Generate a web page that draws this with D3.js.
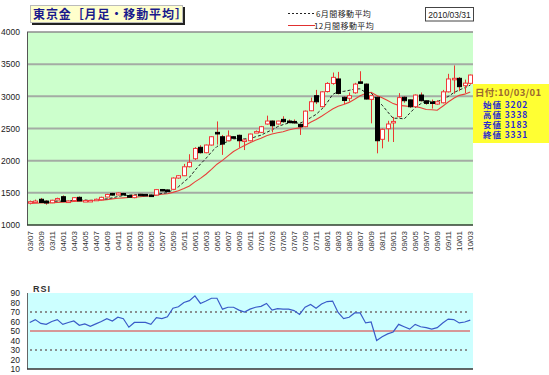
<!DOCTYPE html>
<html>
<head>
<meta charset="utf-8">
<script src="https://cdn.jsdelivr.net/npm/d3@7"></script>
<style>
body{margin:0;background:#fff}
svg{display:block}
</style>
</head>
<body>
<div id="chart"></div>
<script>
// monthly candles 2003/07 - 2010/03
let months = ["03/07","03/08","03/09","03/10","03/11","03/12",
  "04/01","04/02","04/03","04/04","04/05","04/06","04/07","04/08","04/09","04/10","04/11","04/12",
  "05/01","05/02","05/03","05/04","05/05","05/06","05/07","05/08","05/09","05/10","05/11","05/12",
  "06/01","06/02","06/03","06/04","06/05","06/06","06/07","06/08","06/09","06/10","06/11","06/12",
  "07/01","07/02","07/03","07/04","07/05","07/06","07/07","07/08","07/09","07/10","07/11","07/12",
  "08/01","08/02","08/03","08/04","08/05","08/06","08/07","08/08","08/09","08/10","08/11","08/12",
  "09/01","09/02","09/03","09/04","09/05","09/06","09/07","09/08","09/09","09/10","09/11","09/12",
  "10/01","10/02","10/03"];

let openP  = [1345,1362,1400,1372,1345,1405,1440,1368,1380,1430,1375,1378,1395,1392,1435,1490,1468,1490,
  1458,1425,1478,1476,1465,1465,1552,1545,1555,1730,1766,1906,2030,2208,2124,2243,2440,2372,2310,2372,
  2394,2318,2310,2448,2440,2570,2616,2570,2642,2616,2610,2565,2528,2776,3010,2840,3075,3200,3270,2985,
  2970,3055,3225,3190,2953,2985,2332,2497,2600,2685,2985,2945,2838,3020,2930,2912,2880,2900,3070,3270,
  3280,3165,3202];
let highP  = [1380,1395,1420,1385,1392,1425,1460,1385,1435,1445,1392,1390,1410,1440,1485,1500,1505,1500,
  1465,1470,1485,1482,1472,1560,1560,1552,1740,1775,1950,2100,2210,2240,2250,2380,2610,2400,2470,2380,
  2405,2330,2420,2470,2540,2700,2625,2620,2690,2640,2640,2570,2780,2980,3100,3080,3220,3370,3380,3000,
  3060,3210,3390,3200,3020,3000,2500,2620,2680,3050,3000,2950,3030,3060,2940,2950,2940,3100,3350,3480,
  3300,3260,3338];
let lowP   = [1320,1350,1345,1315,1340,1395,1360,1355,1375,1370,1365,1370,1385,1385,1430,1455,1460,1470,
  1425,1415,1465,1462,1440,1460,1525,1520,1550,1720,1760,1895,2010,2110,2115,2235,2250,2090,2300,2340,
  2200,2165,2300,2430,2430,2560,2440,2560,2590,2580,2575,2400,2520,2770,2880,2830,3060,3180,3030,2880,
  2920,3040,3200,2950,2580,2114,2192,2295,2290,2670,2900,2820,2830,2920,2870,2810,2870,2890,3060,3040,
  3080,3050,3183];
let closeP = [1362,1372,1350,1342,1385,1412,1365,1372,1425,1375,1380,1382,1400,1430,1475,1465,1497,1488,
  1432,1462,1474,1472,1448,1550,1538,1530,1730,1766,1905,1975,2190,2124,2243,2372,2415,2258,2383,2350,
  2310,2322,2414,2452,2528,2616,2543,2616,2606,2595,2590,2528,2770,2916,2915,3070,3200,3295,3045,2935,
  3010,3190,3220,2958,3010,2310,2487,2570,2610,2980,2932,2838,3020,2932,2890,2908,2915,3070,3270,3280,
  3150,3205,3331];

let ma6  = [1360,1362,1365,1367,1369,1371,1371,1371,1384,1389,1388,1383,1389,1399,1407,1422,1442,1459,
  1465,1470,1470,1471,1463,1473,1491,1502,1545,1594,1670,1741,1849,1948,2034,2135,2220,2267,2299,2337,
  2348,2340,2340,2372,2396,2440,2479,2528,2560,2584,2594,2580,2618,2668,2719,2798,2900,3028,3074,3077,
  3093,3113,3116,3060,3054,2950,2863,2759,2658,2661,2648,2736,2825,2885,2932,2920,2917,2956,2998,3056,
  3099,3133,3174];
let ma12 = [1335,1338,1341,1344,1348,1352,1356,1360,1365,1369,1373,1377,1380,1385,1395,1406,1415,1421,
  1427,1434,1438,1446,1452,1466,1478,1486,1507,1532,1566,1607,1670,1725,1789,1864,1945,2004,2074,2143,
  2191,2237,2280,2319,2348,2389,2414,2434,2450,2478,2495,2510,2548,2598,2640,2691,2747,2804,2846,2872,
  2906,2955,3008,3044,3064,3013,2978,2936,2887,2860,2851,2843,2844,2822,2795,2791,2783,2846,2911,2970,
  3015,3034,3067];

let rsi = [59,62,58,57,60,62,57,59,60.5,56,57.5,55,57.5,60,63,60.5,64.5,63,
  54,59,59,59,57,64,63,65,74,75.5,80,82,87,79,81.5,84.5,84.5,73,75,75,
  72,70,73,75,76,79,72,73.5,73,73,71.5,67.5,75,78,74,78.5,81,81.5,69.5,63,
  64.5,69,69,58.5,59.5,40,44,47,49,57,54.5,52,57,54.5,53.5,52,53.5,58.5,62.5,62,
  58.5,59.5,61.5];

let priceTicks = [1000,1500,2000,2500,3000,3500,4000];
let rsiTicks = [10,20,30,40,50,60,70,80,90];
let rsiLevels = [70,50,30];

let title = "東京金［月足・移動平均］";
let dateText = "2010/03/31";
let legendNames = ["6月間移動平均","12月間移動平均"];
let infoDate = "日付:10/03/01";
let infoNames = ["始値","高値","安値","終値"];
let infoValues = [3202,3338,3183,3331];

let screen = {width:549, height:375};
let mainBox = {left:27, right:473, top:32, bottom:225};
let rsiBox = {left:27, right:473, top:293, bottom:369};
let numFont = "'Liberation Sans', Arial, sans-serif";
let jpFont = "'Noto Sans CJK JP', 'Noto Sans', sans-serif";

let svg = d3.select("#chart").append("svg")
  .attr("width", screen.width)
  .attr("height", screen.height);
svg.append("rect").attr("width", screen.width).attr("height", screen.height).attr("fill", "#fff");

let xScale = d3.scaleBand()
  .domain(months)
  .range([mainBox.left, mainBox.right])
  .paddingInner(0).paddingOuter(0);
let cx = function(i){ return xScale(months[i]) + xScale.bandwidth()/2; };

let yScale = d3.scaleLinear()
  .domain([1000,4000])
  .range([mainBox.bottom, mainBox.top]);

// ---------- main panel ----------
let main = svg.append("g");
main.append("rect")
  .attr("x", mainBox.left).attr("y", mainBox.top)
  .attr("width", mainBox.right-mainBox.left).attr("height", mainBox.bottom-mainBox.top)
  .attr("fill", "#ccffcc");

main.selectAll("line.grid")
  .data(priceTicks.filter(function(d){ return d>1000 && d<4000; }))
  .enter().append("line")
  .attr("class","grid")
  .attr("x1", mainBox.left).attr("x2", mainBox.right)
  .attr("y1", function(d){ return yScale(d); })
  .attr("y2", function(d){ return yScale(d); })
  .attr("stroke", "#a4aca4").attr("stroke-width", 2);

main.append("line")
  .attr("x1", mainBox.left).attr("x2", mainBox.right)
  .attr("y1", mainBox.top).attr("y2", mainBox.top)
  .attr("stroke", "#8c8c8c").attr("stroke-width", 1.5);
main.append("line")
  .attr("x1", mainBox.left+0.5).attr("x2", mainBox.left+0.5)
  .attr("y1", mainBox.top).attr("y2", mainBox.bottom)
  .attr("stroke", "#555").attr("stroke-width", 1);
main.append("line")
  .attr("x1", mainBox.left).attr("x2", mainBox.right)
  .attr("y1", mainBox.bottom).attr("y2", mainBox.bottom)
  .attr("stroke", "#2f3f2f").attr("stroke-width", 1.5);

// y axis labels
let yAxis = main.append("g")
  .attr("transform", "translate(" + (mainBox.left-7) + ",0)")
  .call(d3.axisLeft(yScale).tickValues(priceTicks).tickSize(0).tickPadding(0).tickFormat(d3.format("d")));
yAxis.select(".domain").remove();
yAxis.selectAll("text").attr("font-family", numFont).attr("font-size", 8.5).attr("fill", "#222");

// x axis labels (every other month)
let xAxis = main.append("g")
  .attr("transform", "translate(0," + (mainBox.bottom+6) + ")")
  .call(d3.axisBottom(xScale)
    .tickValues(months.filter(function(d,i){ return i%2===0; }))
    .tickSize(0).tickPadding(0));
xAxis.select(".domain").remove();
xAxis.selectAll("text")
  .attr("font-family", numFont).attr("font-size", 8).attr("fill", "#333")
  .attr("text-anchor", "end")
  .attr("dy", "0.35em")
  .attr("transform", "rotate(-90)")
  .attr("x", 0).attr("y", 0);

// moving averages
let lineGen = d3.line()
  .x(function(d,i){ return cx(i); })
  .y(function(d){ return yScale(d); });

main.append("path")
  .datum(ma12)
  .attr("d", lineGen)
  .attr("fill","none").attr("stroke","#e8403a").attr("stroke-width",1.1);

main.append("path")
  .datum(ma6)
  .attr("d", lineGen)
  .attr("fill","none").attr("stroke","#222").attr("stroke-width",1)
  .attr("stroke-dasharray","3,2");

// candles
let candles = main.selectAll("g.candle")
  .data(months)
  .enter().append("g").attr("class","candle");

candles.append("line")
  .attr("x1", function(d,i){ return Math.round(cx(i))+0.5; })
  .attr("x2", function(d,i){ return Math.round(cx(i))+0.5; })
  .attr("y1", function(d,i){ return yScale(highP[i]); })
  .attr("y2", function(d,i){ return yScale(lowP[i]); })
  .attr("stroke", "#e83a30").attr("stroke-width", 1);

candles.append("rect")
  .attr("x", function(d,i){ return Math.round(cx(i))-1.5; })
  .attr("y", function(d,i){ return yScale(Math.max(openP[i],closeP[i])); })
  .attr("width", 4)
  .attr("height", function(d,i){
    return Math.max(1.5, Math.abs(yScale(openP[i])-yScale(closeP[i])));
  })
  .attr("fill", function(d,i){ return closeP[i] >= openP[i] ? "#fff" : "#000"; })
  .attr("stroke", function(d,i){ return closeP[i] >= openP[i] ? "#f03a3a" : "#000"; })
  .attr("stroke-width", 1);

// ---------- RSI panel ----------
let rScale = d3.scaleLinear().domain([10,90]).range([rsiBox.bottom, rsiBox.top]);
let rsiG = svg.append("g");
rsiG.append("rect")
  .attr("x", rsiBox.left).attr("y", rsiBox.top)
  .attr("width", rsiBox.right-rsiBox.left).attr("height", rsiBox.bottom-rsiBox.top)
  .attr("fill", "#ccffff");

rsiG.selectAll("line.level")
  .data(rsiLevels)
  .enter().append("line")
  .attr("class","level")
  .attr("x1", rsiBox.left+3).attr("x2", rsiBox.right-3)
  .attr("y1", function(d){ return rScale(d); })
  .attr("y2", function(d){ return rScale(d); })
  .attr("stroke", function(d){ return d===50 ? "#e03030" : "#8a9090"; })
  .attr("stroke-width", function(d){ return d===50 ? 1 : 2; })
  .attr("stroke-dasharray", function(d){ return d===50 ? null : "2,3"; });

rsiG.append("line")
  .attr("x1", rsiBox.left+0.5).attr("x2", rsiBox.left+0.5)
  .attr("y1", rsiBox.top).attr("y2", rsiBox.bottom)
  .attr("stroke", "#666").attr("stroke-width", 1);
rsiG.append("line")
  .attr("x1", rsiBox.left).attr("x2", rsiBox.right)
  .attr("y1", rsiBox.bottom).attr("y2", rsiBox.bottom)
  .attr("stroke", "#333").attr("stroke-width", 1.5);

let rAxis = rsiG.append("g")
  .attr("transform", "translate(" + (rsiBox.left-7) + ",0)")
  .call(d3.axisLeft(rScale).tickValues(rsiTicks).tickSize(0).tickPadding(0));
rAxis.select(".domain").remove();
rAxis.selectAll("text").attr("font-family", numFont).attr("font-size", 8.5).attr("fill", "#222");

rsiG.append("path")
  .datum(rsi)
  .attr("d", d3.line()
    .x(function(d,i){ return cx(i); })
    .y(function(d){ return rScale(d); }))
  .attr("fill","none").attr("stroke","#3a5cc8").attr("stroke-width",1.2);

rsiG.append("text")
  .attr("x", 33).attr("y", 292)
  .attr("font-family", numFont).attr("font-size", 9).attr("font-weight","bold")
  .attr("fill", "#333").attr("letter-spacing", 1)
  .text("RSI");

// ---------- title, legend, boxes ----------
svg.append("rect").attr("x", 32).attr("y", 7).attr("width", 153).attr("height", 18).attr("fill", "#222");
svg.append("rect").attr("x", 30.5).attr("y", 5.5).attr("width", 152).attr("height", 17)
  .attr("fill", "#ffffcc").attr("stroke", "#bbb").attr("stroke-width", 1);
svg.append("text")
  .attr("x", 33).attr("y", 18.5)
  .attr("font-family", jpFont).attr("font-size", 12).attr("font-weight","bold")
  .attr("letter-spacing", 0.9).attr("fill", "#1a1a8c")
  .text(title);

let legend = svg.append("g");
legend.append("line").attr("x1", 288).attr("x2", 316).attr("y1", 13.5).attr("y2", 13.5)
  .attr("stroke", "#222").attr("stroke-dasharray", "2,2");
legend.append("line").attr("x1", 288).attr("x2", 315).attr("y1", 25.5).attr("y2", 25.5)
  .attr("stroke", "#e03030");
legend.selectAll("text")
  .data(legendNames)
  .enter().append("text")
  .attr("x", function(d,i){ return i===0 ? 316 : 314; })
  .attr("y", function(d,i){ return 16.5 + i*12; })
  .attr("font-family", jpFont).attr("font-size", 8).attr("fill", "#222")
  .attr("letter-spacing", 0.4)
  .text(function(d){ return d; });

svg.append("rect").attr("x", 425.5).attr("y", 7.5).attr("width", 48).attr("height", 13.5)
  .attr("fill", "#fff").attr("stroke", "#444");
svg.append("text")
  .attr("x", 449.5).attr("y", 17.5).attr("text-anchor","middle")
  .attr("font-family", numFont).attr("font-size", 8.5).attr("fill", "#222")
  .text(dateText);

// info box: date line plus one multi-line text block for the four prices
let info = svg.append("g");
info.append("rect").attr("x", 473).attr("y", 84).attr("width", 76).attr("height", 59).attr("fill", "#ffff33");
info.append("text")
  .attr("x", 475).attr("y", 96)
  .attr("font-family", jpFont).attr("font-size", 9.5).attr("font-weight","bold")
  .attr("fill", "#9a6a30").attr("letter-spacing", 0.3)
  .text(infoDate);
let infoBlock = info.append("text")
  .attr("x", 483).attr("y", 107.5)
  .attr("font-family", jpFont).attr("font-size", 8.5).attr("font-weight","bold")
  .attr("fill", "#2b2bd0").attr("letter-spacing", 0.9);
infoBlock.selectAll("tspan")
  .data(infoValues)
  .enter().append("tspan")
  .attr("x", 483)
  .attr("dy", function(d,i){ return i===0 ? 0 : 10.3; })
  .text(function(d,i){ return infoNames[i] + " " + d; });
</script>
</body>
</html>
